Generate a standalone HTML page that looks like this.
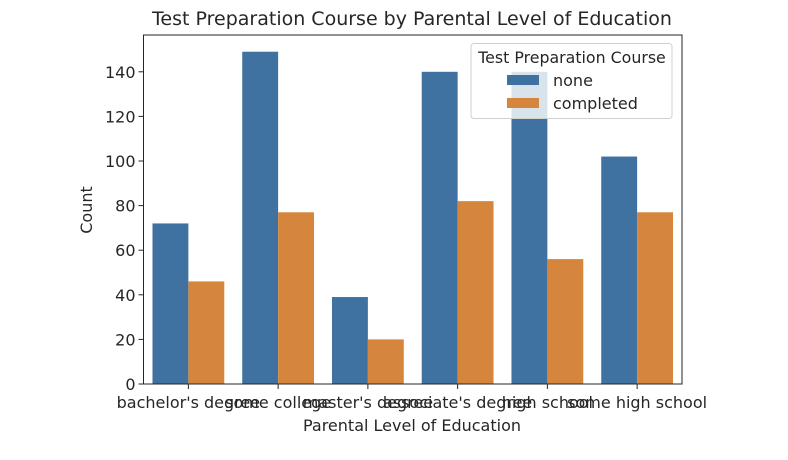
<!DOCTYPE html>
<html><head><meta charset="utf-8"><style>
body{margin:0;background:#fff;}
svg{display:block;font-family:"DejaVu Sans","Liberation Sans",sans-serif;}
</style></head><body>
<svg id="c" width="788" height="460">
<rect width="788" height="460" fill="#fff"/>
<text x="412" y="25" font-size="19" text-anchor="middle" fill="#262626">Test Preparation Course by Parental Level of Education</text>
<g id="bars"></g>
<g id="axes"></g>
<text x="412" y="431" font-size="16" text-anchor="middle" fill="#262626">Parental Level of Education</text>
<text transform="translate(92,210) rotate(-90)" font-size="16" text-anchor="middle" fill="#262626">Count</text>
<g>
<rect x="471" y="43.5" width="201" height="75" rx="3" fill="#fff" fill-opacity="0.8" stroke="#d0d0d0"/>
<text x="572" y="63" font-size="15.8" text-anchor="middle" fill="#262626">Test Preparation Course</text>
<rect x="507" y="75" width="32" height="10" fill="#3f72a0"/>
<text x="553" y="86" font-size="16" fill="#262626">none</text>
<rect x="507" y="98" width="32" height="10" fill="#d5853c"/>
<text x="553" y="109" font-size="16" fill="#262626">completed</text>
</g>
</svg>
<script>
const categories=["bachelor's degree","some college","master's degree","associate's degree","high school","some high school"];
const noneValues=[72,149,39,140,140,102];
const completedValues=[46,77,20,82,56,77];
const yTicks=[0,20,40,60,80,100,120,140];
const L=143.5,R=682,T=35,B=384,YMAX=156.5;
const ns="http://www.w3.org/2000/svg";
const bw=(R-L)/categories.length;
const y=v=>B-(v/YMAX)*(B-T);
const xc=i=>L+bw*(i+0.5);
const bars=document.getElementById('bars'),axes=document.getElementById('axes');
function mk(tag,at,parent){const e=document.createElementNS(ns,tag);for(const k in at)e.setAttribute(k,at[k]);parent.appendChild(e);return e;}
const half=bw*0.4;
categories.forEach((c,i)=>{
  let r=mk('rect',{x:xc(i)-half,y:y(noneValues[i]),width:half,height:B-y(noneValues[i]),fill:'#3f72a0'},bars);
  
  
  r=mk('rect',{x:xc(i),y:y(completedValues[i]),width:half,height:B-y(completedValues[i]),fill:'#d5853c'},bars);
  
  
  mk('line',{x1:xc(i),x2:xc(i),y1:B,y2:B+5,stroke:'#262626','stroke-width':1},axes);
  const t=mk('text',{x:xc(i),y:B+24,'font-size':16,'text-anchor':'middle',fill:'#262626'},axes);
  t.textContent=c;
  
  
});
yTicks.forEach(v=>{
  mk('line',{x1:L-5,x2:L,y1:y(v),y2:y(v),stroke:'#262626','stroke-width':1},axes);
  const t=mk('text',{x:L-8,y:y(v)+6,'font-size':16,'text-anchor':'end',fill:'#262626'},axes);
  t.textContent=v;
  
  
});
const f=mk('rect',{x:L,y:T,width:R-L,height:B-T,fill:'none',stroke:'#262626','stroke-width':1},axes);


</script>
</body></html>
